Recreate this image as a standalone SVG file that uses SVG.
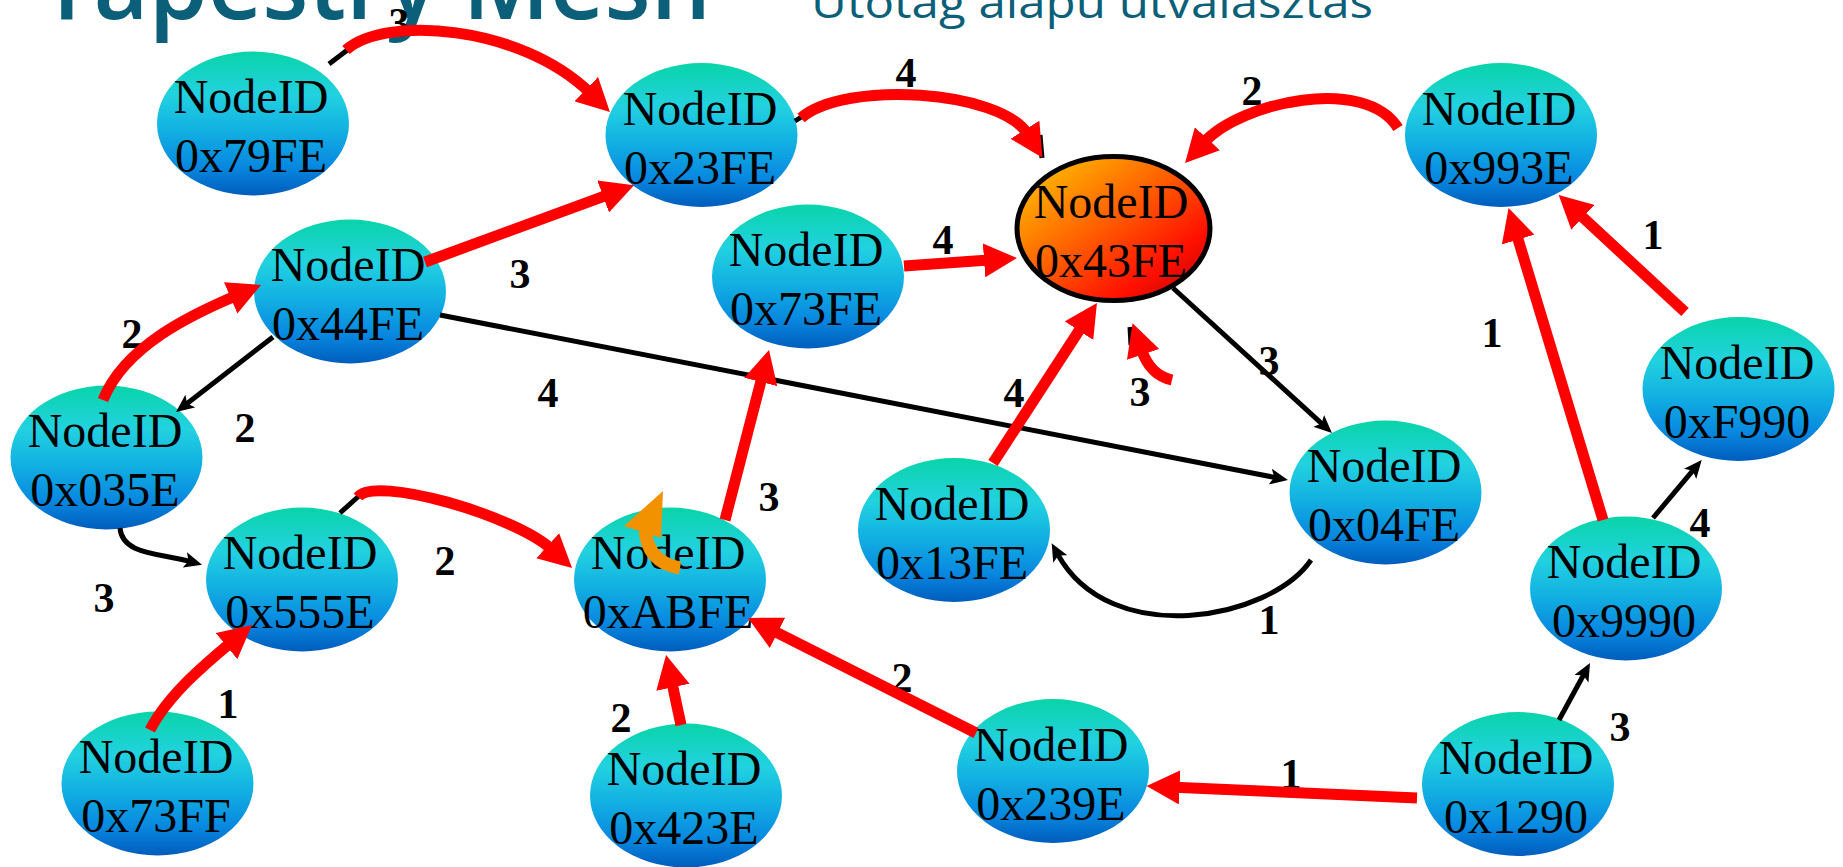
<svg xmlns="http://www.w3.org/2000/svg" width="1843" height="867" viewBox="0 0 1843 867">
  <defs>
    <linearGradient id="gNode" x1="0" y1="0" x2="0" y2="1">
      <stop offset="0" stop-color="#08d4a8"/>
      <stop offset="0.3" stop-color="#22d2e0"/>
      <stop offset="0.55" stop-color="#12b0e2"/>
      <stop offset="0.8" stop-color="#0888e0"/>
      <stop offset="1" stop-color="#005cbc"/>
    </linearGradient>
    <linearGradient id="gRoot" x1="0" y1="0" x2="1" y2="1">
      <stop offset="0" stop-color="#ffd000"/>
      <stop offset="0.45" stop-color="#ff6000"/>
      <stop offset="0.75" stop-color="#ff1000"/>
      <stop offset="1" stop-color="#b00000"/>
    </linearGradient>
    <marker id="arR" markerUnits="userSpaceOnUse" markerWidth="34" markerHeight="34" viewBox="0 0 34 34" refX="5" refY="17" orient="auto">
      <path d="M0,0 L33,17 L0,34 z" fill="#ff0000"/>
    </marker>
    <marker id="arK" markerUnits="userSpaceOnUse" markerWidth="18" markerHeight="16" viewBox="0 0 18 16" refX="6" refY="8" orient="auto">
      <path d="M0,0 L18,8 L0,16 L4,8 z" fill="#000"/>
    </marker>
    <style>
      .node ellipse { fill: url(#gNode); }
      .node text { font-family: "Liberation Serif", "Times New Roman", serif; font-size: 48px; fill: #000; text-anchor: middle; }
      .red { fill: none; stroke: #ff0000; stroke-width: 11; marker-end: url(#arR); }
      .blk { fill: none; stroke: #000; stroke-width: 5; marker-end: url(#arK); }
      .stub { fill: none; stroke: #000; stroke-width: 5; }
      .lbl { font-family: "Liberation Serif", "Times New Roman", serif; font-weight: bold; font-size: 42px; fill: #000; text-anchor: middle; }
      .title { font-family: "Open Sans", "Noto Sans", sans-serif; fill: #0b5f78; }
    </style>
  </defs>

  <rect width="1843" height="867" fill="#ffffff"/>

  <!-- slide heading, mostly above the top edge -->
  <g id="heading">
    <text class="title" x="40" y="19" font-size="100" font-weight="600" textLength="671" lengthAdjust="spacingAndGlyphs">Tapestry Mesh</text>
    <text class="title" x="811" y="18" font-size="44" textLength="562" lengthAdjust="spacingAndGlyphs">Utótag alapú útválasztás</text>
  </g>

  <!-- nodes -->
  <g id="n79FE" class="node"><ellipse cx="253" cy="123.5" rx="96" ry="72"/><text x="251" y="113">NodeID</text><text x="251" y="172">0x79FE</text></g>
  <g id="n23FE" class="node"><ellipse cx="701.5" cy="135" rx="96" ry="72"/><text x="700" y="125">NodeID</text><text x="700" y="184">0x23FE</text></g>
  <g id="n44FE" class="node"><ellipse cx="350" cy="291.5" rx="96" ry="72"/><text x="348" y="281">NodeID</text><text x="348" y="340">0x44FE</text></g>
  <g id="n73FE" class="node"><ellipse cx="808" cy="276.5" rx="96" ry="72"/><text x="806" y="266">NodeID</text><text x="806" y="325">0x73FE</text></g>
  <g id="n43FE" class="node"><ellipse cx="1113.5" cy="228.5" rx="96.5" ry="72" stroke="#000" stroke-width="5" style="fill:url(#gRoot)"/><text x="1111" y="218">NodeID</text><text x="1111" y="277">0x43FE</text></g>
  <g id="n993E" class="node"><ellipse cx="1501" cy="135" rx="96" ry="72"/><text x="1499" y="125">NodeID</text><text x="1499" y="184">0x993E</text></g>
  <g id="n035E" class="node"><ellipse cx="106.5" cy="457.5" rx="96" ry="72"/><text x="105" y="447">NodeID</text><text x="105" y="506">0x035E</text></g>
  <g id="n555E" class="node"><ellipse cx="302" cy="579.5" rx="96" ry="72"/><text x="300" y="569">NodeID</text><text x="300" y="628">0x555E</text></g>
  <g id="nABFE" class="node"><ellipse cx="670" cy="579.5" rx="96" ry="72"/><text x="668" y="569">NodeID</text><text x="668" y="628">0xABFE</text></g>
  <g id="n13FE" class="node"><ellipse cx="954" cy="530" rx="96" ry="72"/><text x="952" y="520">NodeID</text><text x="952" y="579">0x13FE</text></g>
  <g id="n04FE" class="node"><ellipse cx="1385.5" cy="492.5" rx="96" ry="72"/><text x="1384" y="482">NodeID</text><text x="1384" y="541">0x04FE</text></g>
  <g id="nF990" class="node"><ellipse cx="1738.5" cy="389" rx="96" ry="72"/><text x="1737" y="379">NodeID</text><text x="1737" y="438">0xF990</text></g>
  <g id="n9990" class="node"><ellipse cx="1626" cy="588.5" rx="96" ry="72"/><text x="1624" y="578">NodeID</text><text x="1624" y="637">0x9990</text></g>
  <g id="n73FF" class="node"><ellipse cx="157.5" cy="783.5" rx="96" ry="72"/><text x="156" y="773">NodeID</text><text x="156" y="832">0x73FF</text></g>
  <g id="n423E" class="node"><ellipse cx="686" cy="795.5" rx="96" ry="72"/><text x="684" y="785">NodeID</text><text x="684" y="844">0x423E</text></g>
  <g id="n239E" class="node"><ellipse cx="1053" cy="771" rx="96" ry="72"/><text x="1051" y="761">NodeID</text><text x="1051" y="820">0x239E</text></g>
  <g id="n1290" class="node"><ellipse cx="1518" cy="784" rx="96" ry="72"/><text x="1516" y="774">NodeID</text><text x="1516" y="833">0x1290</text></g>

  <!-- hop weights -->
  <g id="weights">
    <text class="lbl" x="399" y="37">3</text>
    <text class="lbl" x="906" y="87">4</text>
    <text class="lbl" x="1252" y="105">2</text>
    <text class="lbl" x="943" y="254">4</text>
    <text class="lbl" x="520" y="288">3</text>
    <text class="lbl" x="132" y="348">2</text>
    <text class="lbl" x="245" y="442">2</text>
    <text class="lbl" x="548" y="407">4</text>
    <text class="lbl" x="104" y="612">3</text>
    <text class="lbl" x="445" y="575">2</text>
    <text class="lbl" x="228" y="718">1</text>
    <text class="lbl" x="621" y="732">2</text>
    <text class="lbl" x="902" y="692">2</text>
    <text class="lbl" x="769" y="511">3</text>
    <text class="lbl" x="1014" y="407">4</text>
    <text class="lbl" x="1140" y="406">3</text>
    <text class="lbl" x="1269" y="375">3</text>
    <text class="lbl" x="1269" y="634">1</text>
    <text class="lbl" x="1291" y="788">1</text>
    <text class="lbl" x="1620" y="741">3</text>
    <text class="lbl" x="1700" y="537">4</text>
    <text class="lbl" x="1492" y="347">1</text>
    <text class="lbl" x="1653" y="249">1</text>
  </g>

  <!-- links: thin black = plain routes, thick red = chosen routes -->
  <g id="links">
    <!-- black tails peeking out from under the red routes -->
    <path class="stub" d="M329,64 L350,48"/>
    <path class="stub" d="M795,121 L803,116"/>
    <path class="stub" d="M1040,135 L1042,158"/>
    <path class="stub" d="M340,513 L360,495"/>
    <path class="stub" d="M1130,327 L1131,345" stroke-width="4"/>

    <!-- plain black links -->
    <path class="blk" d="M273,337 L185.5,404.7"/>
    <path class="blk" d="M440,315 L1276.2,477.7"/>
    <path class="blk" d="M120,528 C122,555 160,553 190.5,561.6"/>
    <path class="blk" d="M1173,288 L1323.1,424.9"/>
    <path class="blk" d="M1311,560 C1270,620 1110,650 1057.4,553.7"/>
    <path class="blk" d="M1559,720 L1584.3,673.5"/>
    <path class="blk" d="M1653,518 L1694,469.2"/>

    <!-- red routes -->
    <path class="red" d="M346,50 C385,15 520,25 589.8,92.6"/>
    <path class="red" d="M801,118 C845,80 1000,90 1027.6,134"/>
    <path class="red" d="M1398,128 C1365,75 1241,102 1204,142.4"/>
    <path class="red" d="M904,266 L989,260"/>
    <path class="red" d="M425,262 L607.8,194.8"/>
    <path class="red" d="M103,400 C125,345 194,313.7 235.3,296"/>
    <path class="red" d="M358,497 C375,475 514.5,515.4 551.4,549.1"/>
    <path class="red" d="M150,730 C168,695 207.3,662 230.4,642.9"/>
    <path class="red" d="M681,725 L671.9,682.4"/>
    <path class="red" d="M976,733 L773,630.6"/>
    <path class="red" d="M725,520 L762,377.1"/>
    <path class="red" d="M993,463 L1081.7,326.5"/>
    <path class="red" d="M1172,380 Q1150,375 1141.5,349.7"/>
    <path class="red" d="M1417,798 L1174.6,787.2"/>
    <path class="red" d="M1603,520 L1516.7,234.8"/>
    <path class="red" d="M1685,312 L1579.2,214"/>

    <!-- orange turn arrow on 0xABFE -->
    <path d="M680,568 Q646,562 645,527" fill="none" stroke="#f39200" stroke-width="13"/>
    <path d="M663,491 L624,526 L661,538 z" fill="#f39200"/>
  </g>
</svg>
